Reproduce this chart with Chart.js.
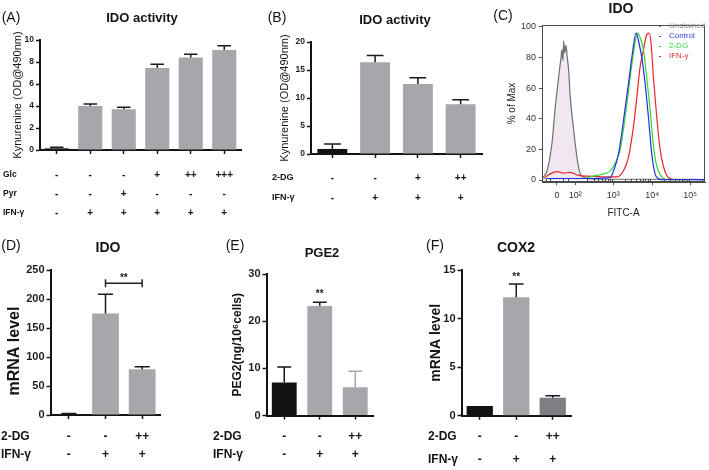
<!DOCTYPE html>
<html>
<head>
<meta charset="utf-8">
<title>IDO / PGE2 / COX2</title>
<script src="https://cdn.jsdelivr.net/npm/chart.js@4.4.1/dist/chart.umd.min.js"></script>
<style>
  body { margin: 0; background: #fff; }
  #wrap { position: relative; width: 709px; height: 470px; overflow: hidden; }
  #wrap canvas { position: absolute; left: 0; top: 0; }
</style>
</head>
<body>
<div id="wrap">
  <canvas id="panelA" width="709" height="470"></canvas>
  <canvas id="panelB" width="709" height="470"></canvas>
  <canvas id="panelC" width="709" height="470"></canvas>
  <canvas id="panelD" width="709" height="470"></canvas>
  <canvas id="panelE" width="709" height="470"></canvas>
  <canvas id="panelF" width="709" height="470"></canvas>
</div>
<script>
// (A) IDO activity with glucose / pyruvate
var groupsA = ['G1', 'G2', 'G3', 'G4', 'G5', 'G6'];
var kynA = [0.15, 4.0, 3.7, 7.45, 8.4, 9.1];
var kynErrA = [0.1, 0.18, 0.18, 0.34, 0.3, 0.38];
var glcA = ['-', '-', '-', '+', '++', '+++'];
var pyrA = ['-', '-', '+', '-', '-', '-'];
var ifnA = ['-', '+', '+', '+', '+', '+'];
var yTicksA = [0, 2, 4, 6, 8, 10];

// (B) IDO activity with 2-DG
var groupsB = ['G1', 'G2', 'G3', 'G4'];
var kynB = [0.9, 16.4, 12.5, 8.9];
var kynErrB = [0.9, 1.2, 1.1, 0.8];
var dgB = ['-', '-', '+', '++'];
var ifnB = ['-', '+', '+', '+'];
var yTicksB = [0, 5, 10, 15, 20];

// (C) IDO flow histogram (x in display channels of the biexponential axis)
var seriesNamesC = ['Unstained', 'Control', '2-DG', 'IFN-γ'];
var unstainedC = [
  {x: 0, y: 1}, {x: 15, y: 6}, {x: 30, y: 24}, {x: 40, y: 48}, {x: 50, y: 67},
  {x: 57, y: 80}, {x: 60, y: 85}, {x: 63, y: 78}, {x: 65, y: 91}, {x: 68, y: 83},
  {x: 72, y: 88}, {x: 76, y: 80}, {x: 80, y: 72}, {x: 85, y: 54}, {x: 95, y: 33},
  {x: 105, y: 15}, {x: 115, y: 4}, {x: 125, y: 2}, {x: 135, y: 1}, {x: 170, y: 0.5},
  {x: 270, y: 0.5}, {x: 330, y: 0.5}, {x: 490, y: 0.3}
];
var controlC = [
  {x: 15, y: 1}, {x: 100, y: 1}, {x: 150, y: 1}, {x: 205, y: 1.5}, {x: 215, y: 6},
  {x: 230, y: 17}, {x: 245, y: 39}, {x: 260, y: 63}, {x: 270, y: 80}, {x: 283, y: 96},
  {x: 290, y: 91}, {x: 300, y: 80}, {x: 310, y: 63}, {x: 320, y: 41}, {x: 330, y: 17},
  {x: 340, y: 4}, {x: 350, y: 1}, {x: 360, y: 0.3}, {x: 490, y: 0.3}
];
var dgC = [
  {x: 10, y: 1}, {x: 120, y: 1}, {x: 145, y: 2}, {x: 165, y: 3}, {x: 185, y: 4},
  {x: 205, y: 6}, {x: 220, y: 11}, {x: 235, y: 20}, {x: 250, y: 41}, {x: 265, y: 67},
  {x: 275, y: 83}, {x: 287, y: 96}, {x: 295, y: 93}, {x: 305, y: 85}, {x: 315, y: 67},
  {x: 325, y: 46}, {x: 335, y: 22}, {x: 345, y: 9}, {x: 360, y: 2}, {x: 370, y: 0.3}
];
var ifnC = [
  {x: 5, y: 1}, {x: 25, y: 4}, {x: 45, y: 5.5}, {x: 65, y: 4.5}, {x: 85, y: 5},
  {x: 110, y: 3}, {x: 135, y: 2.5}, {x: 195, y: 2}, {x: 225, y: 2}, {x: 245, y: 6},
  {x: 260, y: 15}, {x: 275, y: 35}, {x: 285, y: 54}, {x: 295, y: 74}, {x: 305, y: 85},
  {x: 315, y: 95}, {x: 322, y: 96}, {x: 328, y: 89}, {x: 335, y: 67}, {x: 345, y: 41},
  {x: 355, y: 20}, {x: 365, y: 9}, {x: 375, y: 3}, {x: 385, y: 1}, {x: 395, y: 0.3}
];
var xTickPosC = [45, 100, 214, 331, 445];
var xTickLabC = ['0', '10²', '10³', '10⁴', '10⁵'];
var minorTickPosC = [12, 25, 62, 78, 135, 155, 169, 180, 189, 197, 204, 210,
  249, 269, 283, 294, 303, 311, 318, 324, 366, 386, 400, 411, 420, 428, 435, 441, 480];
var yTicksC = [0, 20, 40, 60, 80, 100];

// (D)-(F) qPCR / ELISA, same treatment table
var groupsDEF = ['G1', 'G2', 'G3'];
var dgDEF = ['-', '-', '++'];
var ifnDEF = ['-', '+', '+'];
var idoD = [1.5, 175, 79];
var idoErrD = [1, 33, 4];
var yTicksD = [0, 50, 100, 150, 200, 250];
var pgeE = [7.0, 23.2, 6.0];
var pgeErrE = [3.3, 0.8, 3.4];
var yTicksE = [0, 10, 20, 30];
var coxF = [1.0, 12.2, 1.85];
var coxErrF = [0, 1.35, 0.2];
var yTicksF = [0, 5, 10, 15];

var FONT = '"Liberation Sans", Arial, Helvetica, sans-serif';
var W = 709, H = 470;
var GREY = '#a7a7ab', BLACK = '#121212', DARK = '#7e7e84';

Chart.defaults.font.family = FONT;

// error bars: upper half only, as in the source figure
var errorBars = {
  id: 'errorBars',
  afterDatasetsDraw: function (chart, args, opts) {
    if (!opts.errors) return;
    var ctx = chart.ctx, y = chart.scales.y;
    var meta = chart.getDatasetMeta(0), vals = chart.data.datasets[0].data;
    ctx.save();
    ctx.lineWidth = 1.5;
    meta.data.forEach(function (bar, i) {
      var e = opts.errors[i];
      if (!e) return;
      var top = y.getPixelForValue(vals[i] + e);
      var cap = bar.width * 0.28;
      ctx.strokeStyle = opts.colors ? opts.colors[i] : '#1a1a1a';
      ctx.beginPath();
      ctx.moveTo(bar.x, bar.y);
      ctx.lineTo(bar.x, top);
      ctx.moveTo(bar.x - cap, top);
      ctx.lineTo(bar.x + cap, top);
      ctx.stroke();
    });
    ctx.restore();
  }
};

// treatment table under the x axis
var treatRows = {
  id: 'treatRows',
  afterDraw: function (chart, args, opts) {
    if (!opts.rows) return;
    var ctx = chart.ctx, x = chart.scales.x;
    ctx.save();
    ctx.fillStyle = '#141414';
    ctx.textBaseline = 'middle';
    opts.rows.forEach(function (row, r) {
      ctx.font = opts.font;
      ctx.textAlign = 'left';
      ctx.fillText(row.name, opts.nameX, opts.y[r]);
      ctx.font = opts.markFont || opts.font;
      ctx.textAlign = 'center';
      row.marks.forEach(function (m, i) {
        ctx.fillText(m, x.getPixelForValue(i), opts.y[r]);
      });
    });
    ctx.restore();
  }
};

// panel letter, heading, and any hand-placed axis title
var panelText = {
  id: 'panelText',
  afterDraw: function (chart, args, opts) {
    if (!opts.items) return;
    var ctx = chart.ctx;
    opts.items.forEach(function (t) {
      ctx.save();
      ctx.textBaseline = 'middle';
      ctx.font = t.font;
      ctx.fillStyle = t.color || '#141414';
      ctx.textAlign = t.align || 'center';
      ctx.translate(t.x, t.y);
      if (t.rotate) ctx.rotate(t.rotate);
      ctx.fillText(t.text, 0, 0);
      ctx.restore();
    });
  }
};

// significance stars / bracket
var sigMarks = {
  id: 'sigMarks',
  afterDraw: function (chart, args, opts) {
    if (!opts.marks) return;
    var ctx = chart.ctx, x = chart.scales.x, y = chart.scales.y;
    ctx.save();
    ctx.fillStyle = '#222';
    ctx.strokeStyle = '#222';
    ctx.lineWidth = 1.5;
    ctx.font = opts.font;
    ctx.textAlign = 'center';
    ctx.textBaseline = 'middle';
    opts.marks.forEach(function (m) {
      var yy = y.getPixelForValue(m.value);
      if (m.to !== undefined) {
        var x1 = x.getPixelForValue(m.from), x2 = x.getPixelForValue(m.to);
        ctx.beginPath();
        ctx.moveTo(x1, yy); ctx.lineTo(x2, yy);
        ctx.moveTo(x1, yy - 4); ctx.lineTo(x1, yy + 4);
        ctx.moveTo(x2, yy - 4); ctx.lineTo(x2, yy + 4);
        ctx.stroke();
        ctx.fillText(m.text, (x1 + x2) / 2, yy - m.gap);
      } else {
        ctx.fillText(m.text, x.getPixelForValue(m.from), yy - m.gap);
      }
    });
    ctx.restore();
  }
};

// box, minor ticks and legend of the histogram
var flowExtras = {
  id: 'flowExtras',
  afterDraw: function (chart, args, opts) {
    var ctx = chart.ctx, a = chart.chartArea, x = chart.scales.x;
    ctx.save();
    ctx.strokeStyle = '#4a4a4a';
    ctx.lineWidth = 1;
    ctx.strokeRect(a.left + 0.5, a.top + 0.5, a.right - a.left - 1, a.bottom - a.top - 1);
    ctx.beginPath();
    opts.minor.forEach(function (v) {
      var px = Math.round(x.getPixelForValue(v)) + 0.5;
      ctx.moveTo(px, a.bottom); ctx.lineTo(px, a.bottom - 3);
    });
    ctx.stroke();
    ctx.font = '8px ' + FONT;
    ctx.textBaseline = 'middle';
    ctx.textAlign = 'left';
    opts.names.forEach(function (n, i) {
      var yy = opts.y0 + i * opts.dy;
      ctx.fillStyle = opts.colors[i];
      ctx.fillRect(opts.x - 10, yy, 2, 1);
      ctx.fillText(n, opts.x, yy);
    });
    ctx.restore();
  }
};

function barChart(id, p) {
  return new Chart(document.getElementById(id), {
    type: 'bar',
    data: {
      labels: p.cats,
      datasets: [{
        data: p.values,
        backgroundColor: p.colors,
        borderWidth: 0,
        barPercentage: p.barPct,
        categoryPercentage: 1
      }]
    },
    options: {
      responsive: false,
      animation: false,
      events: [],
      layout: {
        padding: {
          left: p.area.left - p.yW,
          right: W - p.area.right,
          top: p.area.top,
          bottom: H - p.area.bottom - 8
        }
      },
      scales: {
        x: {
          offset: true,
          grid: { display: true, drawOnChartArea: false, offset: false, tickLength: 4, tickWidth: 1.5, tickColor: '#141414' },
          border: { color: '#141414', width: 2 },
          ticks: { display: false },
          afterFit: function (s) { s.height = 8; }
        },
        y: {
          min: p.min,
          max: p.max,
          afterBuildTicks: function (s) { s.ticks = p.yTicks.map(function (v) { return { value: v }; }); },
          grid: { drawOnChartArea: false, tickLength: 4, tickWidth: 1.5, tickColor: '#141414' },
          border: { color: '#141414', width: 2 },
          ticks: { font: { size: p.tickSize, weight: 'bold' }, color: '#1e1e1e', padding: 2 },
          title: { display: !!p.yTitle, text: p.yTitle, font: p.yTitleFont, color: '#141414', padding: { top: p.yTitlePad, bottom: 0 } },
          afterFit: function (s) { s.width = p.yW; }
        }
      },
      plugins: {
        legend: { display: false },
        tooltip: { enabled: false },
        errorBars: { errors: p.errors, colors: p.errColors },
        treatRows: p.rows,
        panelText: { items: p.texts },
        sigMarks: p.sig || {}
      }
    },
    plugins: [errorBars, treatRows, panelText, sigMarks]
  });
}

barChart('panelA', {
  cats: groupsA, values: kynA, errors: kynErrA,
  colors: [BLACK, GREY, GREY, GREY, GREY, GREY], barPct: 0.72,
  area: { left: 40, right: 241, top: 40, bottom: 150 },
  min: 0, max: 10, yTicks: yTicksA, tickSize: 8.5, yW: 30,
  yTitle: 'Kynurenine (OD@490nm)', yTitleFont: { size: 11 }, yTitlePad: 1,
  rows: { nameX: 3, y: [175, 194, 213], font: 'bold 8.5px ' + FONT, markFont: 'bold 10px ' + FONT,
    rows: [{ name: 'Glc', marks: glcA }, { name: 'Pyr', marks: pyrA }, { name: 'IFN-γ', marks: ifnA }] },
  texts: [
    { text: '(A)', x: 11, y: 18, font: '14px ' + FONT },
    { text: 'IDO activity', x: 142, y: 18, font: 'bold 13px ' + FONT }
  ]
});

barChart('panelB', {
  cats: groupsB, values: kynB, errors: kynErrB,
  colors: [BLACK, GREY, GREY, GREY], barPct: 0.70,
  area: { left: 311, right: 482, top: 42, bottom: 154 },
  min: 0, max: 20, yTicks: yTicksB, tickSize: 8.5, yW: 33,
  yTitle: 'Kynurenine (OD@490nm)', yTitleFont: { size: 11 }, yTitlePad: 0,
  rows: { nameX: 272, y: [178, 198], font: 'bold 9px ' + FONT, markFont: 'bold 10px ' + FONT,
    rows: [{ name: '2-DG', marks: dgB }, { name: 'IFN-γ', marks: ifnB }] },
  texts: [
    { text: '(B)', x: 277, y: 18, font: '14px ' + FONT },
    { text: 'IDO activity', x: 395, y: 20, font: 'bold 13px ' + FONT }
  ]
});

barChart('panelD', {
  cats: groupsDEF, values: idoD, errors: idoErrD,
  colors: [BLACK, GREY, GREY], barPct: 0.73,
  area: { left: 50.5, right: 160.5, top: 270, bottom: 415 },
  min: 0, max: 250, yTicks: yTicksD, tickSize: 11, yW: 45,
  rows: { nameX: 1, y: [437, 455], font: 'bold 12px ' + FONT,
    rows: [{ name: '2-DG', marks: dgDEF }, { name: 'IFN-γ', marks: ifnDEF }] },
  texts: [
    { text: '(D)', x: 11, y: 246, font: '14px ' + FONT },
    { text: 'IDO', x: 108, y: 248, font: 'bold 14px ' + FONT },
    { text: 'mRNA level', x: 15, y: 351, rotate: -Math.PI / 2, font: 'bold 16px ' + FONT }
  ],
  sig: { font: 'bold 10px ' + FONT, marks: [{ text: '**', from: 1, to: 2, value: 227, gap: 5 }] }
});

barChart('panelE', {
  cats: groupsDEF, values: pgeE, errors: pgeErrE, errColors: ['#141414', '#1e1e1e', GREY],
  colors: [BLACK, GREY, GREY], barPct: 0.70,
  area: { left: 266.5, right: 373, top: 274, bottom: 415.5 },
  min: 0, max: 30, yTicks: yTicksE, tickSize: 11, yW: 36,
  yTitle: 'PEG2(ng/10⁶cells)', yTitleFont: { size: 12, weight: 'bold' }, yTitlePad: 0,
  rows: { nameX: 213, y: [437, 455], font: 'bold 12px ' + FONT,
    rows: [{ name: '2-DG', marks: dgDEF }, { name: 'IFN-γ', marks: ifnDEF }] },
  texts: [
    { text: '(E)', x: 235, y: 246, font: '14px ' + FONT },
    { text: 'PGE2', x: 322, y: 253, font: 'bold 13px ' + FONT }
  ],
  sig: { font: 'bold 10px ' + FONT, marks: [{ text: '**', from: 1, value: 24.0, gap: 8 }] }
});

barChart('panelF', {
  cats: groupsDEF, values: coxF, errors: coxErrF,
  colors: [BLACK, GREY, DARK], barPct: 0.72,
  area: { left: 461.5, right: 571, top: 270, bottom: 415.7 },
  min: 0, max: 15, yTicks: yTicksF, tickSize: 11, yW: 34,
  yTitle: 'mRNA level', yTitleFont: { size: 14, weight: 'bold' }, yTitlePad: 0,
  rows: { nameX: 428, y: [437, 460], font: 'bold 12px ' + FONT,
    rows: [{ name: '2-DG', marks: dgDEF }, { name: 'IFN-γ', marks: ifnDEF }] },
  texts: [
    { text: '(F)', x: 435, y: 246, font: '14px ' + FONT },
    { text: 'COX2', x: 516, y: 248, font: 'bold 14px ' + FONT }
  ],
  sig: { font: 'bold 10px ' + FONT, marks: [{ text: '**', from: 1, value: 13.55, gap: 7 }] }
});

// (C) histogram
var lineColorsC = ['#6f6f6f', '#2430e0', '#33d633', '#e6262b'];
var legendColorsC = ['#8a8a8a', '#3344e6', '#3ad43a', '#e63030'];
var curveDefaults = { pointRadius: 0, borderWidth: 1.2, cubicInterpolationMode: 'monotone', fill: false };
new Chart(document.getElementById('panelC'), {
  type: 'line',
  data: {
    datasets: [
      Object.assign({ label: seriesNamesC[0], data: unstainedC, borderColor: lineColorsC[0], backgroundColor: 'rgba(240,228,240,0.9)', order: 3 }, curveDefaults, { fill: 'origin' }),
      Object.assign({ label: seriesNamesC[1], data: controlC, borderColor: lineColorsC[1], order: 0 }, curveDefaults),
      Object.assign({ label: seriesNamesC[2], data: dgC, borderColor: lineColorsC[2], order: 1 }, curveDefaults),
      Object.assign({ label: seriesNamesC[3], data: ifnC, borderColor: lineColorsC[3], order: 2 }, curveDefaults)
    ]
  },
  options: {
    responsive: false,
    animation: false,
    events: [],
    layout: { padding: { left: 542 - 40, right: W - 705, top: 25, bottom: H - 182 - 37 } },
    scales: {
      x: {
        type: 'linear', min: 0, max: 490,
        afterBuildTicks: function (s) { s.ticks = xTickPosC.map(function (v) { return { value: v }; }); },
        grid: { drawOnChartArea: false, tickLength: 3, tickColor: '#4a4a4a' },
        border: { color: '#4a4a4a', width: 1 },
        ticks: { font: { size: 9 }, color: '#333', padding: 5, maxRotation: 0,
          callback: function (v, i) { return xTickLabC[i]; } },
        title: { display: true, text: 'FITC-A', font: { size: 10 }, color: '#222', padding: 0 },
        afterFit: function (s) { s.height = 37; }
      },
      y: {
        min: -1.3, max: 101.3,
        afterBuildTicks: function (s) { s.ticks = yTicksC.map(function (v) { return { value: v }; }); },
        grid: { drawOnChartArea: false, tickLength: 3, tickColor: '#4a4a4a' },
        border: { color: '#4a4a4a', width: 1 },
        ticks: { font: { size: 9 }, color: '#333', padding: 3 },
        title: { display: true, text: '% of Max', font: { size: 10 }, color: '#222', padding: { top: 4, bottom: 0 } },
        afterFit: function (s) { s.width = 40; }
      }
    },
    plugins: {
      legend: { display: false },
      tooltip: { enabled: false },
      flowExtras: { minor: minorTickPosC, names: seriesNamesC, colors: legendColorsC, x: 669, y0: 26, dy: 10 },
      panelText: { items: [
        { text: '(C)', x: 503, y: 16, font: '14px ' + FONT },
        { text: 'IDO', x: 621, y: 9, font: 'bold 14px ' + FONT }
      ] }
    }
  },
  plugins: [flowExtras, panelText]
});
</script>
</body>
</html>
